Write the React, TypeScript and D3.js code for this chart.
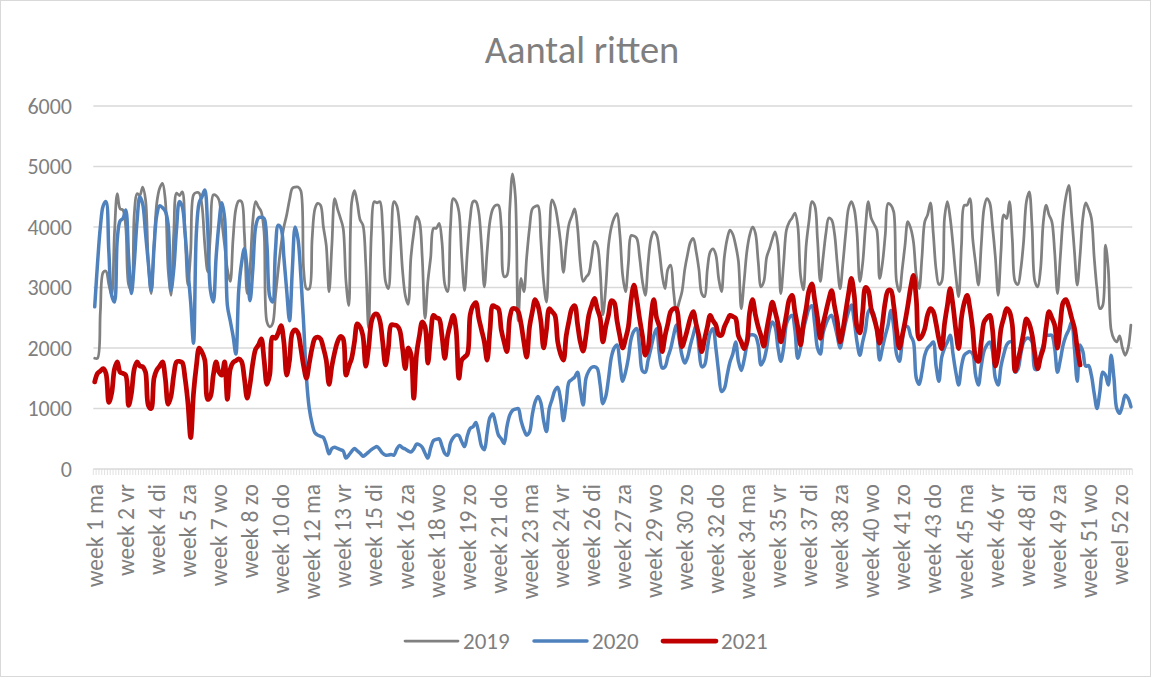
import React from 'react';
import * as d3 from 'd3';

// daily ride counts, one value per day (week 1 ma ... week 53)
const rides2019 = [
  1830, 1830, 2600, 3250, 3270, 3050, 2880,
  3900, 4550, 4300, 4280, 4000, 3050, 2950,
  4200, 4550, 4530, 4660, 4450, 3400, 2900,
  3700, 4400, 4640, 4720, 4450, 3300, 2870,
  3900, 4560, 4520, 4580, 3900, 3040, 3600,
  4530, 4570, 4560, 4350, 3700, 3260, 3900,
  4530, 4520, 4450, 4100, 3700, 3300, 3100,
  3800, 4300, 4430, 4420, 3900, 2900, 3300,
  4100, 4420, 4330, 4250, 3900, 2430, 2350,
  2400, 2850, 3300, 3700, 4000, 4200, 4450,
  4640, 4660, 4660, 4600, 3300, 2980, 2980,
  3800, 4300, 4390, 4360, 4000, 3700, 2930,
  3700, 4470, 4300, 4150, 3980, 3100, 2700,
  4400, 4600, 4400, 4120, 4030, 3400, 2320,
  3900, 4420, 4400, 4420, 3980, 3100, 2980,
  3700, 4420, 4350, 4000, 3300, 2870, 2720,
  3500, 3900, 4170, 4090, 3500, 2490, 3100,
  3500, 3980, 3980, 4060, 3750, 3050, 2930,
  4000, 4470, 4420, 4250, 3500, 2950, 3600,
  4150, 4420, 4420, 4250, 3700, 3010, 3600,
  4100, 4300, 4360, 4360, 4000, 3180, 3200,
  4300, 4880, 4500, 2450, 3150, 2930, 3500,
  3980, 4300, 4340, 4350, 3800, 3100, 2760,
  3800, 4450, 4350, 4100, 3750, 3250, 3700,
  4050, 4180, 4300, 4000, 3400, 3100, 3170,
  3230, 3500, 3760, 3700, 3300, 2550, 3000,
  3700, 4000, 4150, 4220, 3880, 3200, 2930,
  3400, 3860, 3850, 3810, 3500, 3100, 2870,
  3400, 3800, 3920, 3870, 3600, 3200, 2980,
  3300, 3370, 2950, 2600, 2760, 2930, 3300,
  3550, 3750, 3810, 3600, 3300, 2900, 2850,
  3300, 3590, 3640, 3540, 3150, 2930, 3500,
  3800, 3950, 3880, 3700, 3430, 2650, 3100,
  3600, 3870, 4000, 3900, 3430, 3010, 3100,
  3500, 3640, 3800, 3920, 3700, 2900, 3400,
  3950, 4080, 4150, 4230, 4030, 3200, 2960,
  3700, 4100, 4420, 4360, 3800, 3100, 3500,
  3900, 4150, 4120, 3900, 3400, 2980, 3400,
  3900, 4310, 4420, 4300, 3900, 3100, 3400,
  4000, 4420, 4150, 4050, 3950, 3150, 3400,
  3870, 4390, 4360, 4250, 3100, 2930, 3300,
  3700, 4090, 3980, 3750, 3200, 2980, 3500,
  4090, 4200, 4400, 3900, 3300, 3050, 3100,
  4150, 4420, 4150, 3700, 3200, 2850, 3700,
  4360, 4360, 4470, 3800, 3400, 3040, 3700,
  4310, 4470, 4400, 4000, 3500, 2870, 3600,
  4200, 4140, 4420, 3800, 3100, 3050, 3300,
  3760, 4420, 4580, 4000, 3100, 3010, 3300,
  4090, 4360, 4200, 4090, 3590, 2900, 3500,
  4150, 4500, 4690, 4200, 3600, 3040, 3530,
  4150, 4400, 4300, 4150, 3500, 2980, 2650,
  2700, 3700, 3300, 2300, 2150, 2100, 2200,
  2000, 1880, 2000, 2380,
];

const rides2020 = [
  2680, 3400, 4000, 4350, 4420, 3600, 2870,
  2760, 3800, 4100, 4140, 4280, 3500, 2900,
  3400, 4100, 4500, 4380, 3900, 3400, 2950,
  3650, 4200, 4350, 4320, 4260, 4050, 2950,
  3300, 3980, 4420, 4340, 3900, 3300, 2750,
  2080, 3900, 4400, 4500, 4610, 4000, 2950,
  2760, 3500, 4050, 4400, 4150, 2700, 2450,
  2200, 1900, 2950, 3400, 3640, 3300, 2780,
  3300, 4000, 4150, 4160, 4140, 3700, 2850,
  2760, 3600, 4030, 3980, 3500, 2950, 2450,
  3300, 4000, 3800, 3200, 2400, 1500, 1000,
  750, 600, 560, 540, 520, 400, 250,
  340, 360, 340, 320, 300, 180, 230,
  290, 340, 300, 260, 210, 240, 280,
  320, 350, 370, 320, 260, 230, 230,
  240, 230, 330, 390, 350, 330, 300,
  280, 330, 410, 400, 360, 260, 180,
  350, 470, 490, 500, 380, 260, 230,
  430, 520, 560, 550, 450, 370, 550,
  670, 700, 770, 600, 380, 320, 600,
  850, 910, 750, 560, 500, 420, 700,
  890, 970, 990, 1000, 800, 650, 560,
  610, 900, 1110, 1200, 1100, 800, 620,
  1000, 1150, 1300, 1350, 1150, 800, 1100,
  1440, 1480, 1520, 1600, 1300, 1060, 1500,
  1620, 1680, 1690, 1660, 1400, 1080, 1200,
  1500, 1850, 2000, 2050, 1750, 1450, 1600,
  1830, 2150, 2280, 2320, 2000, 1620, 1600,
  1800, 1990, 2200, 2320, 1900, 1670, 1690,
  1850, 1990, 2200, 2380, 2150, 1880, 1750,
  1850, 2050, 2220, 2380, 2000, 1690, 1720,
  2000, 2250, 2320, 2000, 1600, 1280, 1330,
  1550, 1770, 1900, 2100, 1780, 1630, 1800,
  2050, 2210, 2220, 2200, 2050, 1720, 1800,
  2000, 2300, 2430, 2350, 2000, 1780, 2000,
  2400, 2500, 2540, 2300, 1830, 2000, 2300,
  2490, 2650, 2700, 2400, 2000, 1900, 2250,
  2400, 2500, 2540, 2400, 2200, 2000, 2200,
  2430, 2600, 2710, 2450, 2100, 1880, 2100,
  2300, 2600, 2650, 2550, 2300, 1800, 2000,
  2200, 2380, 2620, 2350, 1900, 1780, 2100,
  2350, 2350, 2200, 2100, 1500, 1400, 1600,
  1880, 2000, 2050, 2100, 1700, 1450, 1850,
  2000, 2100, 2210, 1900, 1600, 1390, 1700,
  1880, 1920, 1940, 1900, 1550, 1390, 1700,
  1950, 2050, 2100, 1950, 1500, 1390, 1700,
  1900, 2050, 2100, 2100, 1600, 1650, 1900,
  2100, 2160, 2160, 2100, 1650, 1650, 1900,
  2050, 2210, 2210, 2210, 2000, 1600, 1800,
  2050, 2200, 2300, 2430, 2000, 1450, 2050,
  1940, 1700, 1710, 1550, 1250, 1000, 1270,
  1600, 1550, 1390, 1880, 1500, 1000, 920,
  1050, 1220, 1170, 1030,
];

const rides2021 = [
  1440, 1580, 1620, 1660, 1580, 1100, 1250,
  1650, 1770, 1600, 1580, 1550, 1050, 1250,
  1650, 1770, 1700, 1690, 1600, 1050, 1000,
  1500, 1640, 1700, 1770, 1500, 1070, 1200,
  1550, 1770, 1780, 1760, 1500, 1100, 520,
  1250, 1700, 2000, 1930, 1800, 1150, 1200,
  1550, 1770, 1600, 1550, 1770, 1150, 1650,
  1760, 1790, 1820, 1780, 1500, 1170, 1400,
  1750, 1980, 2050, 2150, 1800, 1400, 1560,
  2180, 2160, 2250, 2370, 2100, 1550, 1800,
  2250, 2300, 2250, 2000, 1700, 1500, 1750,
  2000, 2160, 2180, 2150, 2000, 1800, 1400,
  1700, 1930, 2100, 2190, 2150, 1550, 1700,
  1830, 2100, 2400, 2350, 2200, 1700, 2000,
  2430, 2550, 2560, 2450, 2100, 1720, 2000,
  2380, 2380, 2370, 2300, 2000, 1660, 2000,
  1900, 1170, 1900, 2200, 2430, 2350, 1750,
  2200, 2540, 2500, 2480, 2200, 1830, 2200,
  2400, 2540, 2300, 1500, 1800, 1850, 1900,
  2550, 2700, 2750, 2500, 2300, 2100, 1800,
  2300, 2700, 2680, 2650, 2300, 2100, 1940,
  2500, 2650, 2650, 2600, 2400, 2100, 1850,
  2350, 2600, 2800, 2700, 2450, 2000, 2300,
  2650, 2600, 2540, 2100, 1900, 1800, 2200,
  2450, 2650, 2700, 2400, 2100, 1950, 2200,
  2540, 2700, 2820, 2650, 2500, 2100, 2350,
  2550, 2780, 2750, 2450, 2200, 2000, 2150,
  2350, 2800, 3040, 2800, 2480, 2200, 1880,
  2000, 2500, 2800, 2500, 2350, 1940, 2200,
  2400, 2600, 2650, 2650, 2350, 2020, 2150,
  2320, 2500, 2600, 2400, 2200, 1940, 2150,
  2350, 2540, 2450, 2380, 2220, 2210, 2350,
  2450, 2540, 2520, 2490, 2200, 2100, 1990,
  2100, 2600, 2800, 2550, 2350, 2200, 2030,
  2300, 2550, 2760, 2600, 2400, 2100, 2300,
  2550, 2800, 2870, 2600, 2350, 2050, 2400,
  2660, 2950, 3060, 2800, 2500, 2160, 2400,
  2600, 2800, 2950, 2700, 2450, 2100, 2300,
  2600, 2900, 3150, 2880, 2350, 2250, 2600,
  3000, 2950, 2650, 2500, 2320, 2080, 2400,
  2760, 2950, 2950, 2700, 2300, 2000, 2200,
  2430, 2700, 3000, 3200, 2800, 2150, 2200,
  2320, 2550, 2650, 2600, 2400, 2150, 1990,
  2400, 2700, 2980, 2700, 2300, 1990, 2500,
  2750, 2870, 2650, 2300, 1850, 1780, 2100,
  2430, 2500, 2540, 2300, 1700, 1900, 2320,
  2500, 2650, 2600, 2380, 1620, 1800, 2000,
  2250, 2480, 2400, 2220, 1900, 1660, 1850,
  2000, 2350, 2600, 2500, 2380, 2000, 2400,
  2750, 2800, 2680, 2500, 2330, 2000, 1720,
];

const dayCount = 368;
const labelStep = 11;
const tickLabels = [
  'week 1 ma', 'week 2 vr', 'week 4 di', 'week 5 za', 'week 7 wo', 'week 8 zo',
  'week 10 do', 'week 12 ma', 'week 13 vr', 'week 15 di', 'week 16 za', 'week 18 wo',
  'week 19 zo', 'week 21 do', 'week 23 ma', 'week 24 vr', 'week 26 di', 'week 27 za',
  'week 29 wo', 'week 30 zo', 'week 32 do', 'week 34 ma', 'week 35 vr', 'week 37 di',
  'week 38 za', 'week 40 wo', 'week 41 zo', 'week 43 do', 'week 45 ma', 'week 46 vr',
  'week 48 di', 'week 49 za', 'week 51 wo', 'weel 52 zo',
];
const yTicks = [0, 1000, 2000, 3000, 4000, 5000, 6000];
const seriesNames = ['2019', '2020', '2021'];

const series = [
  { name: seriesNames[0], values: rides2019, color: '#808080', width: 2.75 },
  { name: seriesNames[1], values: rides2020, color: '#4f81bd', width: 3.5 },
  { name: seriesNames[2], values: rides2021, color: '#c00000', width: 4.75 },
];

const font = 'Carlito, Lato, sans-serif';
const textColor = '#7f7f7f';

export default function App() {
  const width = 1152, height = 679;
  const left = 93.3, right = 1132.3, top = 106, bottom = 469;

  const x = d3.scaleBand<number>().domain(d3.range(dayCount)).range([left, right]);
  const cx = (i: number) => (x(i) as number) + x.bandwidth() / 2;
  const y = d3.scaleLinear().domain([0, 6000]).range([bottom, top]);

  const line = d3.line<number>()
    .x((d, i) => cx(i))
    .y(d => y(d))
    .curve(d3.curveCatmullRom.alpha(0.5));

  const legendX = [405, 534, 663];

  return (
    <svg width={width} height={height}
      style={{ position: 'absolute', left: 0, top: 0, background: '#fff' }}
      fontFamily={font}>
      <rect x={0.5} y={0.5} width={width - 2} height={height - 3} fill="#fff" stroke="#d9d9d9" />

      <text x={582} y={63} textAnchor="middle" fontSize={38.5} fill={textColor}>Aantal ritten</text>

      {yTicks.map(t => (
        <g key={t}>
          {t > 0 && <line x1={left} x2={right} y1={y(t)} y2={y(t)} stroke="#d9d9d9" strokeWidth={1.3} />}
          <text x={72} y={y(t)} dy="0.35em" textAnchor="end" fontSize={22} fill={textColor}>{t}</text>
        </g>
      ))}

      <line x1={left} x2={right} y1={bottom} y2={bottom} stroke="#d9d9d9" strokeWidth={1.3} />
      {d3.range(dayCount + 1).map(i => {
        const tx = left + i * x.step();
        return <line key={i} x1={tx} x2={tx} y1={bottom} y2={bottom + 6} stroke="#d9d9d9" strokeWidth={0.8} />;
      })}

      {tickLabels.map((lab, j) => (
        <text key={lab} transform={`translate(${cx(j * labelStep)},484) rotate(-90)`}
          dy="0.35em" textAnchor="end" fontSize={23.5} fill={textColor}>{lab}</text>
      ))}

      {series.map(s => (
        <path key={s.name} d={line(s.values) || ''} fill="none" stroke={s.color}
          strokeWidth={s.width} strokeLinejoin="round" strokeLinecap="round" />
      ))}

      {series.map((s, k) => (
        <g key={s.name} transform={`translate(${legendX[k]},641)`}>
          <line x1={0} x2={53} y1={0} y2={0} stroke={s.color} strokeWidth={s.width} strokeLinecap="round" />
          <text x={58} y={0} dy="0.35em" fontSize={23} fill={textColor}>{s.name}</text>
        </g>
      ))}
    </svg>
  );
}
